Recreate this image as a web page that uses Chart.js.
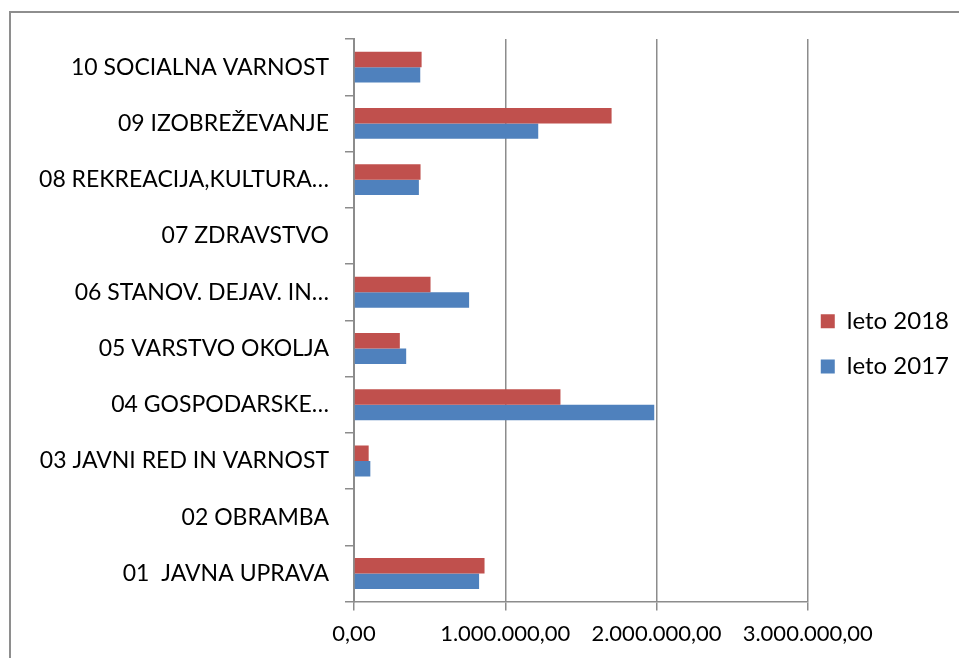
<!DOCTYPE html>
<html>
<head>
<meta charset="utf-8">
<script src="https://cdn.jsdelivr.net/npm/chart.js@4"></script>
<style>
  html, body { margin: 0; padding: 0; background: #fff; }
  #wrap { position: absolute; left: 0; top: 0; width: 959px; height: 658px; }
  #frame { position: absolute; left: 9px; top: 11px; width: 960px; height: 660px;
    border-left: 2px solid #8e8e8e; border-top: 2px solid #8e8e8e; }
</style>
</head>
<body>
<div id="frame"></div>
<div id="wrap"><canvas id="chart"></canvas></div>
<script>
// categories, top to bottom as shown
const categories = [
  "10 SOCIALNA VARNOST",
  "09 IZOBREŽEVANJE",
  "08 REKREACIJA,KULTURA…",
  "07 ZDRAVSTVO",
  "06 STANOV. DEJAV. IN…",
  "05 VARSTVO OKOLJA",
  "04 GOSPODARSKE…",
  "03 JAVNI RED IN VARNOST",
  "02 OBRAMBA",
  "01  JAVNA UPRAVA",
];
const values2018 = [447000, 1703000, 440000, 0, 506000, 303000, 1365000, 97000, 0, 863000];
const values2017 = [438000, 1218000, 429000, 0, 761000, 345000, 1985000, 108000, 0, 827000];
const axisMax = 3000000;
const axisStep = 1000000;

const gridColor = "#8c8c8c";

function formatNumber(value) {
  const [whole, dec] = Number(value).toFixed(2).split(".");
  return whole.replace(/\B(?=(\d{3})+(?!\d))/g, ".") + "," + dec;
}

new Chart(document.getElementById("chart"), {
  type: "bar",
  data: {
    labels: categories,
    datasets: [
      { label: "leto 2018", data: values2018, backgroundColor: "#C0504D" },
      { label: "leto 2017", data: values2017, backgroundColor: "#4F81BD" },
    ],
  },
  options: {
    indexAxis: "y",
    responsive: true,
    maintainAspectRatio: false,
    animation: false,
    categoryPercentage: 0.55,
    barPercentage: 1,
    layout: { padding: { top: 39, bottom: 1, left: 0, right: 0 } },
    scales: {
      x: {
        min: 0,
        max: axisMax,
        ticks: {
          stepSize: axisStep,
          color: "#000",
          padding: 10,
          font: { family: "Lato", size: 22 },
          callback: (value) => formatNumber(value),
        },
        grid: { color: gridColor, lineWidth: 1.5, tickLength: 9 },
        border: { color: gridColor, width: 1.5 },
      },
      y: {
        ticks: {
          color: "#000",
          padding: 16,
          autoSkip: false,
          font: { family: "Lato", size: 23 },
        },
        grid: { drawOnChartArea: false, color: gridColor, lineWidth: 1.5, tickLength: 9 },
        border: { color: gridColor, width: 2 },
        afterFit: (scale) => { scale.width = 354; },
      },
    },
    plugins: {
      legend: {
        position: "right",
        labels: {
          boxWidth: 14,
          boxHeight: 14,
          padding: 13,
          color: "#000",
          font: { family: "Lato", size: 24, lineHeight: 1.34 },
          // one-line arrays so the row height follows the font line height
          generateLabels: (chart) =>
            Chart.defaults.plugins.legend.labels
              .generateLabels(chart)
              .map((item) => ({ ...item, text: [item.text] })),
        },
      },
      tooltip: { enabled: false },
    },
  },
});
</script>
</body>
</html>
